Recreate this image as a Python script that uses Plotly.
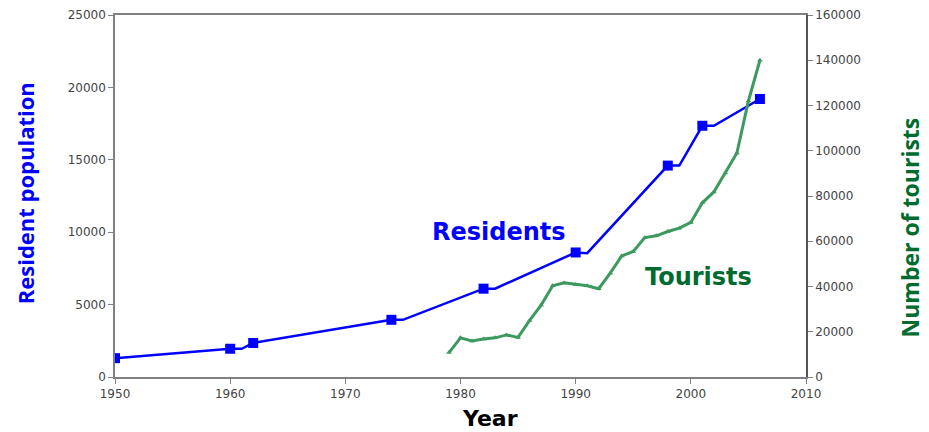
import plotly.graph_objects as go

# Residents: marked census years
res_years = [1950, 1960, 1962, 1974, 1982, 1990, 1998, 2001, 2006]
res_values = [1300, 1950, 2350, 3950, 6100, 8600, 14600, 17350, 19200]
# Residents line (includes unmarked follow-up points)
res_line_years = [1950, 1960, 1961, 1962, 1974, 1975, 1982, 1983, 1990, 1991,
                  1998, 1999, 2001, 2002, 2006]
res_line_values = [1300, 1950, 1950, 2350, 3950, 3950, 6100, 6100, 8600, 8550,
                   14600, 14600, 17350, 17350, 19200]

# Tourists: yearly
tour_years = list(range(1979, 2007))
tour_values = [10800, 17300, 15900, 16800, 17300, 18600, 17500, 25000, 31800,
               40300, 41600, 40800, 40300, 39000, 45900, 53500, 55500, 61600,
               62400, 64300, 65800, 68300, 77000, 81800, 90200, 99000, 122000,
               140000]

x_ticks = [1950, 1960, 1970, 1980, 1990, 2000, 2010]
y_ticks = [0, 5000, 10000, 15000, 20000, 25000]
y2_ticks = [0, 20000, 40000, 60000, 80000, 100000, 120000, 140000, 160000]

BLUE = "#0000FF"
GREEN_LINE = "#3C9A5F"
GREEN_TEXT = "#006B2F"
AXIS = "#808080"
TICKFONT = dict(family="DejaVu Sans", size=12, color="#444444")

fig = go.Figure()
fig.add_trace(go.Scatter(x=tour_years, y=tour_values, yaxis="y2", mode="lines+markers",
                         line=dict(color=GREEN_LINE, width=3),
                         marker=dict(symbol="triangle-up", size=5, color=GREEN_LINE),
                         showlegend=False, hoverinfo="x+y"))
fig.add_trace(go.Scatter(x=res_line_years, y=res_line_values, mode="lines",
                         line=dict(color=BLUE, width=2.5),
                         showlegend=False, hoverinfo="skip"))
fig.add_trace(go.Scatter(x=res_years, y=res_values, mode="markers",
                         marker=dict(symbol="square", size=10, color=BLUE),
                         showlegend=False, hoverinfo="x+y"))

fig.update_layout(
    width=929, height=432,
    margin=dict(l=107, r=131, t=7, b=63),
    paper_bgcolor="white", plot_bgcolor="white",
    xaxis=dict(range=[1950, 2010], tickvals=x_ticks, ticktext=[str(v) for v in x_ticks],
               showgrid=False, zeroline=False, automargin=False,
               showline=True, linecolor=AXIS, linewidth=1.5, mirror=True,
               ticks="outside", ticklen=5, tickcolor=AXIS, tickfont=TICKFONT),
    yaxis=dict(range=[0, 25000], tickvals=y_ticks, ticktext=[str(v) for v in y_ticks],
               showgrid=False, zeroline=False, automargin=False,
               showline=True, linecolor=AXIS, linewidth=1.5,
               ticks="outside", ticklen=5, tickcolor=AXIS, tickfont=TICKFONT),
    yaxis2=dict(range=[0, 160000], tickvals=y2_ticks, ticktext=[str(v) for v in y2_ticks],
                overlaying="y", side="right", automargin=False,
                showgrid=False, zeroline=False, showline=True, linecolor="#555555",
                linewidth=1.5, ticks="outside", ticklen=5, tickcolor=AXIS,
                tickfont=TICKFONT),
    annotations=[
        dict(text="Resident population", xref="paper", yref="paper", x=-0.13, y=0.508,
             xanchor="center", yanchor="middle", textangle=-90, showarrow=False,
             font=dict(family="Open Sans", size=22, color=BLUE, weight="bold")),
        dict(text="Number of tourists", xref="paper", yref="paper", x=1.151, y=0.414,
             xanchor="center", yanchor="middle", textangle=-90, showarrow=False,
             font=dict(family="Open Sans", size=23, color=GREEN_TEXT, weight="bold")),
        dict(text="<b>Year</b>", xref="paper", yref="paper", x=0.543, y=-0.116,
             xanchor="center", yanchor="middle", showarrow=False,
             font=dict(family="DejaVu Sans", size=22, color="black")),
        dict(text="<b>Residents</b>", xref="paper", yref="paper", x=0.556, y=0.40,
             xanchor="center", yanchor="middle", showarrow=False,
             font=dict(family="DejaVu Sans", size=24, color=BLUE)),
        dict(text="<b>Tourists</b>", xref="paper", yref="paper", x=0.844, y=0.276,
             xanchor="center", yanchor="middle", showarrow=False,
             font=dict(family="DejaVu Sans", size=24, color=GREEN_TEXT)),
    ],
)

fig.write_html("out.html")
